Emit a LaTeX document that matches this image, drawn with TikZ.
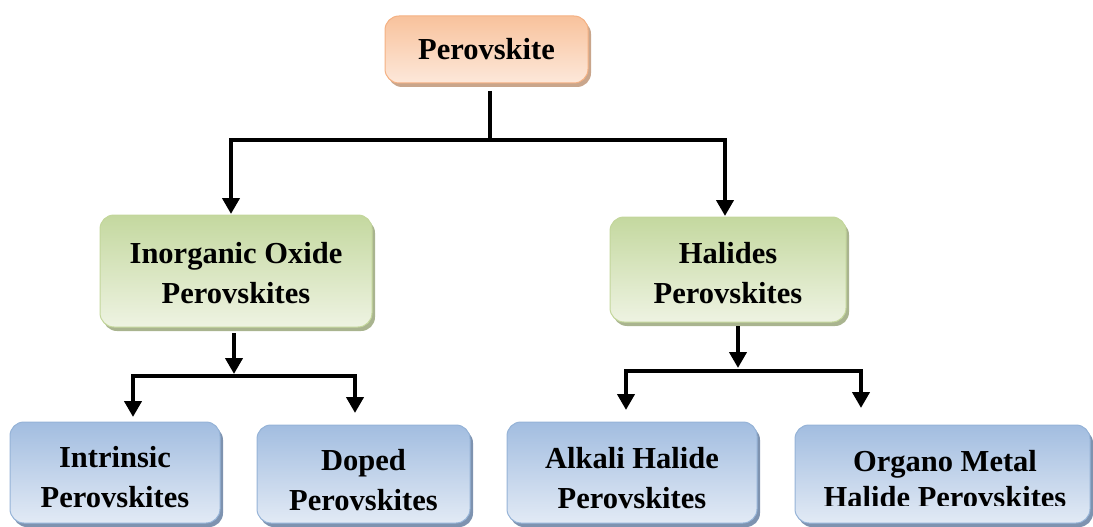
\documentclass[tikz,border=0pt]{standalone}
\usepackage{fontspec}
\setmainfont{Liberation Serif}
\usetikzlibrary{arrows.meta,shadows}
\definecolor{orTop}{HTML}{F8C29C}
\definecolor{orBot}{HTML}{FDE8DA}
\definecolor{orBorder}{HTML}{F4B183}
\definecolor{orShadow}{HTML}{C9A68C}
\definecolor{grTop}{HTML}{C4D89F}
\definecolor{grBot}{HTML}{EEF3E2}
\definecolor{grBorder}{HTML}{C3D69B}
\definecolor{grShadow}{HTML}{A9B48F}
\definecolor{blTop}{HTML}{A2BDE0}
\definecolor{blBot}{HTML}{E2EAF5}
\definecolor{blBorder}{HTML}{95B3D7}
\definecolor{blShadow}{HTML}{7E93B0}
\begin{document}
\begin{tikzpicture}[x=1pt,y=-1pt,
  txt/.style={align=center, font=\fontsize{30.5}{40}\selectfont\bfseries, inner sep=0pt},
  basebox/.style={txt, rounded corners=14pt, line width=1pt},
  obox/.style={basebox, draw=orBorder, top color=orTop, bottom color=orBot,
    general shadow={shadow xshift=3pt, shadow yshift=-4pt, fill=orShadow}},
  gbox/.style={basebox, draw=grBorder, top color=grTop, bottom color=grBot,
    general shadow={shadow xshift=3pt, shadow yshift=-4pt, fill=grShadow}},
  bbox/.style={basebox, draw=blBorder, top color=blTop, bottom color=blBot,
    general shadow={shadow xshift=3pt, shadow yshift=-4pt, fill=blShadow}},
  conn/.style={line width=4pt, line join=miter},
  arr/.style={conn, -{Triangle[width=17pt,length=16pt]}}]
\useasboundingbox (0,0) rectangle (1093,527);

% boxes
\node[obox, minimum width=203pt, minimum height=67pt] (top) at (486.5,49.5) {Perovskite};
\node[gbox, minimum width=272pt, minimum height=112pt,
  label={[txt,yshift=-2pt]center:Inorganic Oxide\\Perovskites}] (ino) at (236,271) {};
\node[gbox, minimum width=236pt, minimum height=105pt,
  label={[txt,yshift=-4pt]center:Halides\\Perovskites}] (hal) at (728,269.5) {};
\node[bbox, minimum width=210pt, minimum height=101pt,
  label={[txt,yshift=-5pt]center:Intrinsic\\Perovskites}] (intr) at (115,472.5) {};
\node[bbox, minimum width=213pt, minimum height=98pt,
  label={[txt,yshift=-6pt]center:Doped\\Perovskites}] (dop) at (363.5,474) {};
\node[bbox, minimum width=250pt, minimum height=101pt,
  label={[txt,yshift=-6pt]center:Alkali Halide\\Perovskites}] (alk) at (632,472.5) {};
\node[bbox, minimum width=295pt, minimum height=98pt] (org) at (942.5,474) {};
\begin{scope}
  \clip (org.north west) rectangle ([yshift=18pt]org.south east);
  \node[txt, font=\fontsize{30.5}{36}\selectfont\bfseries] (orgt) at (945,479) {Organo Metal\\Halide Perovskites};
\end{scope}

% connectors from Perovskite
\coordinate (t0) at (490,91);
\coordinate (j1) at (490,140);
\coordinate (a1) at (231,214);
\coordinate (a2) at (725,216);
\draw[conn] (t0) -- (j1);
\draw[arr] (j1) -| (a1);
\draw[arr] (j1) -| (a2);

% connectors from Inorganic Oxide
\coordinate (i0) at (234,333);
\coordinate (i1) at (234,374);
\coordinate (ij) at (234,376);
\coordinate (iL) at (133,417);
\coordinate (iR) at (355,413);
\draw[arr] (i0) -- (i1);
\draw[arr] (ij) -| (iL);
\draw[arr] (ij) -| (iR);

% connectors from Halides
\coordinate (h0) at (738,326);
\coordinate (h1) at (738,368);
\coordinate (hj) at (738,371);
\coordinate (hL) at (626,410);
\coordinate (hR) at (861,408);
\draw[arr] (h0) -- (h1);
\draw[arr] (hj) -| (hL);
\draw[arr] (hj) -| (hR);
\end{tikzpicture}
\end{document}
